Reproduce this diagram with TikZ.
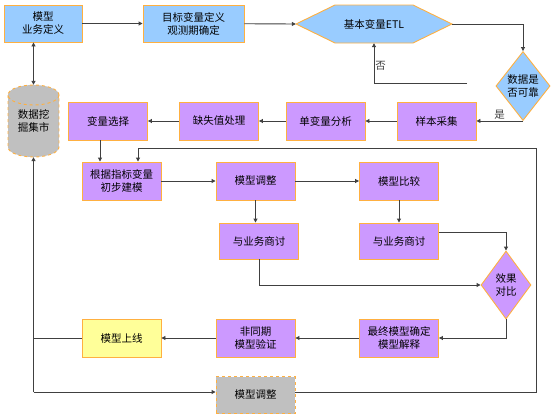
\documentclass[tikz,border=0pt]{standalone}
\usepackage{fontspec}
\setmainfont{Noto Sans CJK SC}
\usetikzlibrary{arrows.meta,shapes.geometric}
\definecolor{flowBlue}{RGB}{153,204,255}
\definecolor{flowPurple}{RGB}{204,153,255}
\definecolor{flowYellow}{RGB}{255,255,153}
\definecolor{flowGray}{RGB}{192,192,192}
\definecolor{flowOrange}{RGB}{255,176,64}
\definecolor{flowLine}{RGB}{64,64,64}

\begin{document}
\begin{tikzpicture}[x=1pt, y=-1pt,
  every node/.style={font=\fontsize{10.5}{13}\selectfont, align=center, inner sep=1pt},
  box/.style={rectangle, draw=flowOrange, line width=0.9pt, minimum width=79pt, minimum height=38pt},
  bluebox/.style={box, fill=flowBlue},
  purplebox/.style={box, fill=flowPurple},
  yellowbox/.style={box, fill=flowYellow},
  graybox/.style={box, fill=flowGray, dashed},
  decide/.style={diamond, draw=flowOrange, line width=0.9pt, inner sep=0pt},
  link/.style={flowLine, line width=0.9pt, -{Triangle[length=4pt,width=4pt]}}]
\useasboundingbox (0,0) rectangle (554,415);

% top row
\node[bluebox, minimum width=78pt, minimum height=37pt] (def) at (43,23.5) {模型\\业务定义};
\node[bluebox, minimum width=101pt, minimum height=37pt] (target) at (193.5,23.5) {目标变量定义\\观测期确定};
\fill[flowBlue] (296,24)--(335,5)--(413,5)--(452,24)--(413,43)--(335,43)--cycle;
\draw[flowOrange, line width=0.9pt] (296,24)--(335,5)--(413,5)--(452,24)--(413,43)--(335,43)--cycle;
\node[minimum width=156pt, minimum height=38pt] (etl) at (374,24) {基本变量ETL};
\node[decide, fill=flowBlue, minimum width=51pt, minimum height=69pt] (reliable) at (523,86) {数据是\\否可靠};

% data preparation
\node[purplebox] (sample) at (436.5,121) {样本采集};
\node[purplebox] (univar) at (325.5,121) {单变量分析};
\node[purplebox] (missing) at (219,121) {缺失值处理};
\node[purplebox] (select) at (108,121) {变量选择};
\fill[flowGray] (8,95) rectangle (59,147);
\fill[flowGray] (33.5,147) ellipse[x radius=25.5, y radius=10];
\fill[flowGray] (33.5,95) ellipse[x radius=25.5, y radius=10];
\draw[flowOrange, dashed, line width=0.9pt] (33.5,95) ellipse[x radius=25.5, y radius=10];
\draw[flowOrange, dashed, line width=0.9pt] (8,95) -- (8,147)
  arc[start angle=180, end angle=0, x radius=25.5, y radius=10] -- (59,95);
\node[minimum width=51pt, minimum height=72pt] (store) at (33.5,121) {数据挖\\掘集市};

% modelling
\node[purplebox] (build) at (121.5,181) {根据指标变量\\初步建模};
\node[purplebox] (tune) at (255.5,181) {模型调整};
\node[purplebox] (compare) at (399,181) {模型比较};
\node[purplebox, minimum height=36pt] (talkA) at (259,241) {与业务商讨};
\node[purplebox, minimum height=36pt] (talkB) at (399,241) {与业务商讨};
\node[decide, fill=flowPurple, minimum width=50pt, minimum height=68pt] (effect) at (506,285) {效果\\对比};

% final row
\node[purplebox] (final) at (399,338) {最终模型确定\\模型解释};
\node[purplebox] (verify) at (255.5,338) {非同期\\模型验证};
\node[yellowbox] (online) at (121.5,338) {模型上线};
\node[graybox, minimum height=37pt] (retune) at (255.5,395) {模型调整};

\coordinate (noend) at (467,83);
\coordinate (loopright) at (536,148);

% connectors
\draw[link] (def) -- (target);
\draw[link] (target) -- (etl.west);
\draw[link] (etl.east) -| (reliable.north);
\draw[link] (noend) -| (etl.south) node[pos=0.72, right] {否};
\draw[link] (reliable.south) -- (reliable.south -| sample.east) node[midway, above] {是};
\draw[link] (sample) -- (univar);
\draw[link] (univar) -- (missing);
\draw[link] (missing) -- (select);
\draw[link] ([xshift=-8pt]select.south) -- ([xshift=-8pt]select.south |- build.north);
\draw[link, {Triangle[length=4pt,width=4pt]}-{Triangle[length=4pt,width=4pt]}] (store.north |- def.south) -- (store.north);
\draw[link] (build) -- (tune);
\draw[link] (tune) -- (compare);
\draw[link] (tune.south) -- (tune.south |- talkA.north);
\draw[link] (compare) -- (talkB);
\draw[link] ([yshift=9pt]talkB.east) -| (effect.north);
\draw[link] (talkA.south) |- (effect.west);
\draw[link] (effect.south) |- (final.east);
\draw[link] (final) -- (verify);
\draw[link] (verify) -- (online);
\draw[flowLine, line width=0.9pt] (online.west) -- (online.west -| store.south);
\draw[link] ([yshift=3pt]retune.west -| store.south) -- (store.south);
\draw[link] ([yshift=3pt]retune.west -| store.south) -- ([yshift=3pt]retune.west);
\draw[link] ([yshift=3pt]retune.east) -| (loopright) -| ([xshift=16.5pt]build.north);
\end{tikzpicture}
\end{document}
